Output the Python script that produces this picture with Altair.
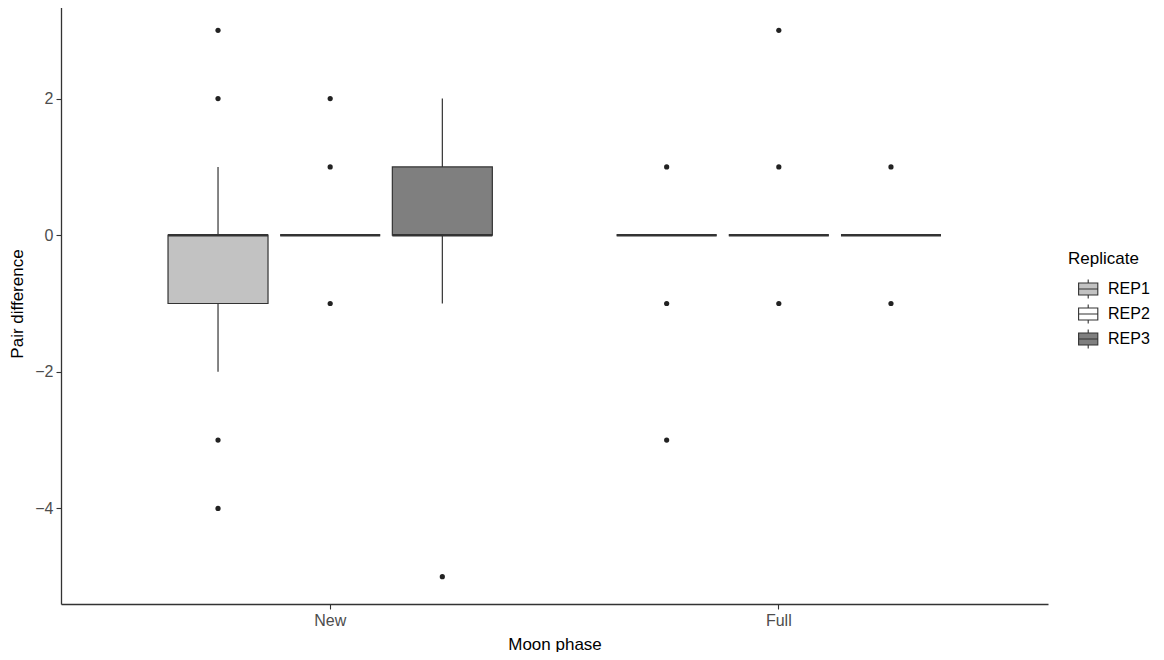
import altair as alt
import pandas as pd

# Box summary per group
phases = ["New", "New", "New", "Full", "Full", "Full"]
reps = ["REP1", "REP2", "REP3", "REP1", "REP2", "REP3"]
whisker_low = [-2, 0, -1, 0, 0, 0]
q1 = [-1, 0, 0, 0, 0, 0]
median = [0, 0, 0, 0, 0, 0]
q3 = [0, 0, 1, 0, 0, 0]
whisker_high = [1, 0, 2, 0, 0, 0]

# Outliers
out_phase = ["New"] * 4 + ["New"] * 3 + ["New"] + ["Full"] * 3 + ["Full"] * 3 + ["Full"] * 2
out_rep = ["REP1"] * 4 + ["REP2"] * 3 + ["REP3"] + ["REP1"] * 3 + ["REP2"] * 3 + ["REP3"] * 2
out_value = [3, 2, -3, -4, 2, 1, -1, -5, 1, -1, -3, 3, 1, -1, 1, -1]

phase_order = ["New", "Full"]
rep_order = ["REP1", "REP2", "REP3"]
rep_colors = ["#C2C2C2", "#FFFFFF", "#7F7F7F"]
y_ticks = [-4, -2, 0, 2]

box_df = pd.DataFrame({
    "phase": phases, "rep": reps, "lo": whisker_low, "q1": q1,
    "med": median, "q3": q3, "hi": whisker_high,
})
out_df = pd.DataFrame({"phase": out_phase, "rep": out_rep, "value": out_value})

FONT = "Liberation Sans"

x_enc = alt.X("phase:N", sort=phase_order, title="Moon phase",
              scale=alt.Scale(paddingInner=0, paddingOuter=0.1),
              axis=alt.Axis(labelAngle=0, titlePadding=8))
xoff_enc = alt.XOffset("rep:N", sort=rep_order,
                       scale=alt.Scale(paddingInner=0.107, paddingOuter=0.5535))
y_scale = alt.Scale(domain=[-5.4, 3.4], nice=False, zero=False)
y_axis = alt.Axis(values=y_ticks, format="d", titlePadding=8)

base = alt.Chart(box_df)

whiskers = base.mark_rule(color="#333333", strokeWidth=1.2).encode(
    x=x_enc, xOffset=xoff_enc,
    y=alt.Y("lo:Q", scale=y_scale, axis=y_axis, title="Pair difference"),
    y2="hi:Q",
)

legend_symbol = ("M-0.2,-0.5H1.4V0.5H-0.2Z M-0.2,0H1.4 "
                 "M0.6,-0.5V-0.8 M0.6,0.5V0.8")

boxes = base.mark_bar(stroke="#333333", strokeWidth=1.2, width=100).encode(
    x=x_enc, xOffset=xoff_enc,
    y=alt.Y("q1:Q", scale=y_scale, axis=y_axis, title="Pair difference"),
    y2="q3:Q",
    fill=alt.Fill("rep:N", sort=rep_order, title="Replicate",
                  scale=alt.Scale(domain=rep_order, range=rep_colors),
                  legend=alt.Legend(
                      orient="none", legendX=1007, legendY=248,
                      symbolType=legend_symbol,
                      symbolSize=576, symbolStrokeColor="#333333", symbolStrokeWidth=1.1,
                      symbolOpacity=1, labelFontSize=16, titleFontSize=17,
                      titleFontWeight="normal", labelColor="#000000", titleColor="#000000",
                      rowPadding=0, titlePadding=8, labelOffset=14,
                  )),
)

medians = base.mark_tick(color="#333333", thickness=2.4, size=100, opacity=1).encode(
    x=x_enc, xOffset=xoff_enc,
    y=alt.Y("med:Q", scale=y_scale, axis=y_axis, title="Pair difference"),
)

points = alt.Chart(out_df).mark_circle(color="#222222", size=27, opacity=1).encode(
    x=x_enc, xOffset=xoff_enc,
    y=alt.Y("value:Q", scale=y_scale, axis=y_axis, title="Pair difference"),
)

chart = alt.layer(whiskers, boxes, medians, points).properties(
    width=987, height=601,
    autosize=alt.AutoSizeParams(type="none"),
    padding={"left": 53, "top": -5, "right": 104, "bottom": 48},
    background="white",
).configure_view(stroke=None).configure_axis(
    labelFont=FONT, titleFont=FONT, labelFontSize=16, titleFontSize=17,
    labelColor="#4D4D4D", titleColor="#000000", titleFontWeight="normal",
    domainColor="#333333", domainWidth=1.3, tickColor="#333333", tickSize=5,
    tickWidth=1.1, labelPadding=3, grid=False,
).configure_legend(labelFont=FONT, titleFont=FONT)

chart.save("out.html", embed_options={"renderer": "svg", "actions": False})
